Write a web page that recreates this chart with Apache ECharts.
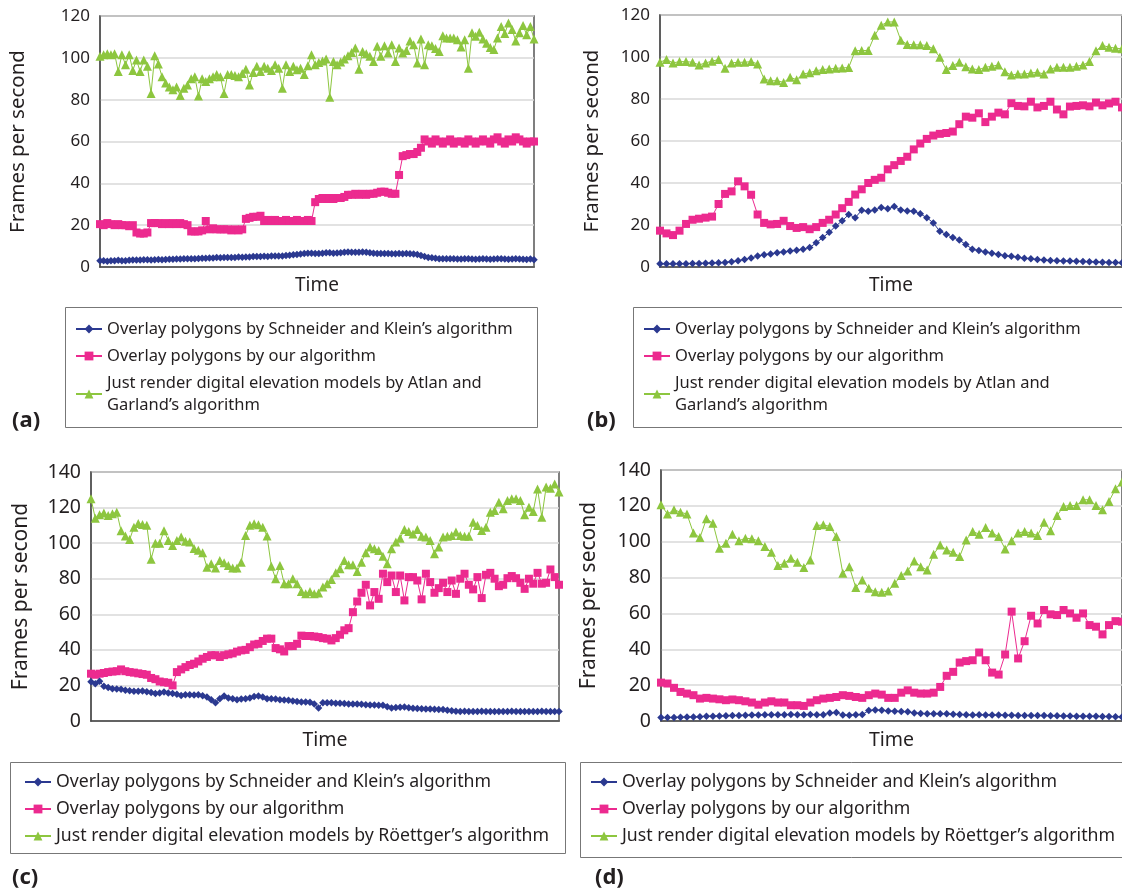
<!DOCTYPE html>
<html>
<head>
<meta charset="utf-8">
<script src="https://cdn.jsdelivr.net/npm/echarts@6/dist/echarts.min.js"></script>
<style>
  html, body { margin: 0; padding: 0; background: #fff; }
  #main { width: 1122px; height: 892px; }
</style>
</head>
<body>
<div id="main"></div>
<script>
// frames per second over time, four test scenes (a)-(d)

var nameBlue = 'Overlay polygons by Schneider and Klein’s algorithm';
var namePink = 'Overlay polygons by our algorithm';
var nameGreenAB = 'Just render digital elevation models by Atlan and Garland’s algorithm';
var nameGreenCD = 'Just render digital elevation models by Röettger’s algorithm';

var yTicksAB = [0, 20, 40, 60, 80, 100, 120];
var yTicksCD = [0, 20, 40, 60, 80, 100, 120, 140];

// (a)
var blueA = [3,3,2.8,3,3,3.2,3,3,3.2,3.3, 3.3,3.4,3.5,3.5,3.4,3.5,3.6,3.5,3.6,3.7,
  3.7,3.8,3.8,4,3.9,4,4,4.1,4.2,4.2, 4.3,4.3,4.5,4.4,4.5,4.5,4.6,4.6,4.8,4.7,
  4.8,4.8,5,5,5,5.1,5,5.2,5.2,5.3, 5.3,5.5,5.6,5.8,6,6.2,6.5,6.6,6.6,6.5,
  6.5,6.6,6.8,6.8,6.6,6.7,6.8,7,7.2,7, 7,7.1,7.2,7,6.8,6.6,6.5,6.4,6.5,6.4,
  6.3,6.3,6.4,6.3,6.4,6.3,6.2,6,5.5,5, 4.6,4.4,4.2,4,4,3.9,4,3.9,3.8,3.8,
  3.9,4,3.8,3.7,3.8,3.9,3.8,3.7,3.8,3.9, 4,3.8,3.7,3.8,3.9,3.8,3.7,3.6,3.8,3.5];
var pinkA = [20.5,20,21,20.5,20,20.5,20,20,19.5,20, 16.5,16,16,16.5,
  21,21,21,20.5,21,20.5,21,20.5,21,20.5,20, 17,17,17,17.5, 22,
  18,18.5,18,18,18,18,17.5,18,17.5,18, 23,23.5,24,24,24.5,
  22,22.5,22,22.5,22,22,22.5,22,22,22.5,22,22,22.5,22, 31,
  32.5,33,32.5,33,32.5,33,33,33.5, 34.5,34.5,35,34.5,35,34.5,35,35,
  35.5,36,36,35.5,35,35, 44, 53,53.5,54,54,55,57, 61,
  60,59,61,60,59,60,61,59,60,60, 59,61,60,59,60,61,60,59,61,62, 60,59,61,60,62,61,60,59,60,60];
var greenA = [100.7,101.5,102,101.5,102,93.5,101.5,96.7,101.5,94,
  99,93.5,99,96,83,101,97,91,88,86, 84.7,86,82,85.5,87,90,91,81.8,90,88.7,
  90,91,92,91,83,92,92,91.5,91,92.5, 94.6,87,93,96,93.5,96,95,94,96.7,95,
  85.5,96.7,93.5,96,94.3,95,92,96.2,101.5,96.7, 97.8,98.5,99.4,81.2,98.3,96.7,98,99.4,101,102.5,
  104.7,94.6,103,102,100.7,98.3,105.5,100.7,105.8,102.3, 106.3,98.3,104.7,102.3,103.5,108,106.3,97.5,109,96.7,
  106.3,105.8,104.5,103,110.6,109.5,109.5,109.5,108.7,105.2, 108.7,95,112,110.3,112.2,109,107,105,104,109.5,
  115,111.6,116.7,113.5,108,112,115.4,111,115,109];

// (b)
var blueB = [1.5,1.5,1.5,1.6,1.6,1.7,1.7,1.8,1.9,2, 2.2,2.5,3,3.6,4.3,5.2,5.8,6.2,6.8,7.2,
  7.6,8,8.5,9.3,11.5,14,16.5,19.5,22,25, 23.5,27,26.5,27.2,28.3,27.7,28.8,27.2,26.7,26.5,
  25.3,23.5,21,17,15.5,14,12.8,10.7,8.5,7.8, 7.2,6.6,6,5.4,5.1,4.6,4.2,3.9,3.6,3.3,
  3.1,3,2.9,2.8,2.7,2.6,2.5,2.4,2.3,2.2, 2.1,2];
var pinkB = [17.3,16,15.2,17.3,20.5,22.5,23,23.5,24,30, 34.8,36,40.8,38.4,34.4,25,21,20.3,20.5,22,
  19.5,18.6,19,18,19,21,22.5,25,28,31, 34.5,37,40,41.5,42.5,46.5,48.5,50.5,52.5,56,
  58.8,61,62.6,63.4,63.8,64.5,68,71.6,71.1,73.2, 69,71.6,73.5,72.7,78,76.7,76.5,78.7,76,76.7,
  78.7,75,72.7,76.4,76.7,77,76.5,78.3,77,77.9, 78.7,76];
var greenB = [97.5,98.8,97.2,97.8,97.8,97.5,96.2,97.2,98,98.8, 94.6,97.2,97.5,97.5,97.8,96.7,
  89.5,88.7,88.7,87.9,90.3,89.2,91.9,92.5,93.5,94, 94.3,94.6,94.8,95,
  103,103.1,103.1,110.3,115.1,116.7,116.7,108,106,105.8, 105.8,105.5,103.9,99.9,94,95.9,97.5,95.3,94.3,94,
  95.1,95.6,96.2,93,91.4,91.9,91.9,92.4,92.7,91.9, 94.3,95.1,95.1,95.1,95.6,96.2,97.8,103,105.5,104.7,
  104.2,103.9];

// (c)
var blueC = [22,21,22.3,19.5,18.8,18.2,18,17.8,17.3,17, 16.7,16.7,16.8,16.5,16,15.4,15.8,16.3,15.8,15.4,
  15,14.4,14.8,14.8,14.6,14.8,14.2,13.5,12,10.3, 12.5,14,13,12.5,12,12.3,12.5,13,13.8,14,
  13.5,12.5,12.5,12.3,12,11.8,11.6,11.2,11,10.7, 10.7,10.5,9.5,7.3,10.3,10.3,10.2,10,10,9.8,
  9.6,9.6,9.6,9.4,9.2,9,9,8.8,8.8,8, 7.3,7.6,7.8,7.9,7.5,7.2,7,6.9,6.8,6.7,
  6.6,6.5,6.4,6,5.8,5.5,5.4,5.5,5.4,5.3, 5.4,5.5,5.4,5.3,5.4,5.4,5.3,5.4,5.5,5.4,
  5.3,5.4,5.4,5.3,5.4,5.5,5.4,5.3,5.4,5.4];
var pinkC = [26.6,26,26.6,27,27.5,27.8,28,29,28,27.5, 27.2,26.8,26.4,26,24.2,23.5,22.2,21.8,21.5,20,
  27.5,29,30.3,31.5,32.2,33.5,35,36,37,37, 36,37,37.5,38,39,39.7,40,41.5,43,43.4,
  45,46.3,46.3,41,40.3,39.1,42.1,42.1,43.4,48, 47.8,47.8,47.5,47.2,46.6,46.3,45.3,46.6,48.5,51,
  52.2,61.2,67.2,72.1,76.6,65,72.5,68.7,82.8,78.1, 81.8,72.5,81.8,67.8,80.9,80.9,79,68.4,82.8,78.1,
  72.1,74.7,77.7,72.5,79,71.5,80,82.8,76.6,74, 80.9,69.1,82.2,83.3,80,75.8,76.6,80.3,81.5,80.3,
  77.7,74.3,80,77.2,83.3,77.2,77.7,85.2,80.9,76.6];
var greenC = [125,114,116,117,115.5,116.5,117.4,107,104,102, 109,111,110.5,110,91,100,100,107,101.5,98.7,
  101.5,103.4,101,100.6,97,96,94.6,86.5,88.4,86, 90.3,89,87.5,86,86,89.3,104.3,110,110.9,110.3,
  109,104,87,80,87.5,77.2,77.2,80,77.2,72.8, 71.5,72.8,71.5,72,75.3,77.2,79.6,83.3,85.6,90.3,
  87.8,87.8,84.1,89.3,94.6,97.8,96.8,95.9,92.7,88.4, 96.8,100.6,102.8,107.7,106.6,105.2,107.7,103.9,103.4,101.5,
  94,97.8,103.4,103.9,104.3,106.2,104.3,103.9,103.9,111.8, 109.9,107.1,109,117.4,118.4,123,119.3,124,124.9,124.9,
  124,115.9,120.2,117.8,130.5,114.6,131.5,130.9,133.3,128.7];

// (d)
var blueD = [1.9,1.9,2,2.1,2.2,2.3,2.4,2.6,2.7,2.8, 2.9,3,3.1,3.2,3.3,3.4,3.5,3.5,3.5,3.5,
  3.6,3.5,3.5,3.6,3.5,3.5,4.5,4.7,3.3,3.2, 3.5,3.6,5.8,6.2,6,5.6,5.4,5.3,5.1,4.5,
  4.2,4.1,4.1,4,4,3.8,3.6,3.5,3.4,3.5, 3.4,3.3,3.3,3.2,3.2,3.1,3.1,3,3,3,
  2.9,2.9,2.8,2.8,2.7,2.7,2.6,2.6,2.5,2.5, 2.4,2.3];
var pinkD = [21.4,20.9,18.5,16.2,15.3,14.4,12.5,12.9,12.5,12.1, 11.6,12,11.6,11,10.3,9.1,10.3,11,10.3,10.3,
  8.8,8.8,8.4,10.3,11.6,12.5,12.9,13.4,14.4,14, 13.4,12.9,14.4,15.3,14.7,12.9,12.9,15.8,17.1,15.8,
  15.3,15.3,15.8,19,25.2,27.4,32.6,33.4,33.9,38.2, 33.9,27,25.9,37.1,61,34.9,44.5,58.7,54.4,61.9,
  59.5,59.1,61.9,60,57.6,60,53.5,52.6,48.3,53.5, 55.7,55.4];
var greenD = [120.6,115.4,117.8,116.5,115.4,104.8,102.3,112.8,110.3,96.4, 99.2,104.2,100.5,102,101.6,100.5,97.3,94.1,86.7,88,
  90.8,88.5,85.6,89.8,109,109.4,108.5,102.9,82.4,86.1, 74.4,78.7,74,72.1,71.8,72.5,76.8,81.1,83.7,89.3,
  86.1,84.2,93,98.2,95.4,94.1,91.7,101,105.7,104.2, 107.9,104.8,102.9,96,100.5,104.8,105.7,104.8,103.4,110.9,
  106.1,114.6,119.7,120.2,120.2,123.4,123.4,120.2,117.8,122.5, 129.5,133.3];

var FONT = '"Noto Sans", "DejaVu Sans", sans-serif';
var TXT = '#231F20';
var C_BLUE = '#2B3990';
var C_PINK = '#EC2A8F';
var C_GREEN = '#8DC63F';

function indexCats(n){
	var arr = [];
	for(var i=0;i<n;i++){ arr.push(i); }
	return arr;
}

function makeSeries(name, data, idx, color, symbol, size){
	return {
		name: name,
		type: 'line',
		xAxisIndex: idx,
		yAxisIndex: idx,
		data: data,
		symbol: symbol,
		symbolSize: size,
		showSymbol: true,
		showAllSymbol: true,
		itemStyle: { color: color },
		lineStyle: { color: color, width: 1 },
		emphasis: { disabled: true },
		z: symbol == 'triangle' ? 3 : (symbol == 'rect' ? 4 : 5)
	};
}

function makeX(idx, n, fs){
	return {
		gridIndex: idx,
		type: 'category',
		data: indexCats(n),
		boundaryGap: false,
		name: 'Time',
		nameLocation: 'middle',
		nameGap: 9,
		nameTextStyle: { fontSize: fs, color: TXT, fontFamily: FONT },
		axisLine: { lineStyle: { color: '#444', width: 1.5 } },
		axisTick: { show: false },
		axisLabel: { show: false },
		splitLine: { show: false }
	};
}

function makeY(idx, ticks, gap, fs, nfs){
	return {
		gridIndex: idx,
		type: 'value',
		min: ticks[0],
		max: ticks[ticks.length-1],
		interval: ticks[1]-ticks[0],
		name: 'Frames per second',
		nameLocation: 'middle',
		nameGap: gap,
		nameTextStyle: { fontSize: nfs, color: TXT, fontFamily: FONT },
		axisLine: { show: true, lineStyle: { color: '#555', width: 1.5 } },
		axisTick: { show: false },
		axisLabel: { fontSize: fs, color: TXT, fontFamily: FONT, margin: 10 },
		splitLine: { lineStyle: { color: '#D9D9D9', width: 1.5 } }
	};
}

function makeLegend(left, top, greenName, fs){
	return {
		orient: 'vertical',
		left: left,
		top: top,
		itemWidth: 26,
		itemHeight: 11,
		itemGap: 5,
		selectedMode: false,
		data: [nameBlue, namePink, greenName],
		formatter: function(name){
			if(name == nameGreenAB){
				return 'Just render digital elevation models by Atlan and\nGarland’s algorithm';
			}
			return name;
		},
		textStyle: { fontSize: fs, lineHeight: 22, color: TXT, fontFamily: FONT }
	};
}

var chart = echarts.init(document.getElementById('main'));

var grids = [
	{ left: 100, top: 16, width: 434, height: 251 },
	{ left: 660, top: 15, width: 462, height: 252 },
	{ left: 91, top: 472, width: 468, height: 249 },
	{ left: 661, top: 470, width: 461, height: 251 }
];
for(var g=0; g<grids.length; g++){
	grids[g].show = true;
	grids[g].borderColor = '#555';
	grids[g].borderWidth = 1.5;
	grids[g].containLabel = false;
}

var option = {
	animation: false,
	backgroundColor: '#fff',
	grid: grids,
	xAxis: [
		makeX(0, blueA.length, 19),
		makeX(1, blueB.length, 19),
		makeX(2, blueC.length, 19.5),
		makeX(3, blueD.length, 19.5)
	],
	yAxis: [
		makeY(0, yTicksAB, 71, 17, 20.5),
		makeY(1, yTicksAB, 57, 17, 20.5),
		makeY(2, yTicksCD, 59, 19.5, 21),
		makeY(3, yTicksCD, 61, 19.5, 21)
	],
	legend: [
		makeLegend(70, 313, nameGreenAB, 16.5),
		makeLegend(638, 313, nameGreenAB, 16.5),
		makeLegend(19, 766, nameGreenCD, 17.7),
		makeLegend(585, 766, nameGreenCD, 17.7)
	],
	graphic: [
		{ type: 'rect', shape: { x: 65.5, y: 307.5, width: 472, height: 120 }, style: { fill: 'none', stroke: '#777', lineWidth: 1 }, z: -1 },
		{ type: 'rect', shape: { x: 633.5, y: 307.5, width: 500, height: 120 }, style: { fill: 'none', stroke: '#777', lineWidth: 1 }, z: -1 },
		{ type: 'rect', shape: { x: 10.5, y: 762.5, width: 555, height: 91 }, style: { fill: 'none', stroke: '#777', lineWidth: 1 }, z: -1 },
		{ type: 'rect', shape: { x: 580.5, y: 762.5, width: 550, height: 95 }, style: { fill: 'none', stroke: '#777', lineWidth: 1 }, z: -1 },
		{ type: 'text', left: 12, top: 410, style: { text: '(a)', font: 'bold 22px ' + FONT, fill: TXT } },
		{ type: 'text', left: 587, top: 410, style: { text: '(b)', font: 'bold 22px ' + FONT, fill: TXT } },
		{ type: 'text', left: 12, top: 867, style: { text: '(c)', font: 'bold 22px ' + FONT, fill: TXT } },
		{ type: 'text', left: 595, top: 867, style: { text: '(d)', font: 'bold 22px ' + FONT, fill: TXT } }
	],
	series: [
		makeSeries(nameGreenAB, greenA, 0, C_GREEN, 'triangle', 9),
		makeSeries(namePink, pinkA, 0, C_PINK, 'rect', 8),
		makeSeries(nameBlue, blueA, 0, C_BLUE, 'diamond', 7.5),
		makeSeries(nameGreenAB, greenB, 1, C_GREEN, 'triangle', 9),
		makeSeries(namePink, pinkB, 1, C_PINK, 'rect', 8),
		makeSeries(nameBlue, blueB, 1, C_BLUE, 'diamond', 7.5),
		makeSeries(nameGreenCD, greenC, 2, C_GREEN, 'triangle', 9),
		makeSeries(namePink, pinkC, 2, C_PINK, 'rect', 8),
		makeSeries(nameBlue, blueC, 2, C_BLUE, 'diamond', 7.5),
		makeSeries(nameGreenCD, greenD, 3, C_GREEN, 'triangle', 9),
		makeSeries(namePink, pinkD, 3, C_PINK, 'rect', 8),
		makeSeries(nameBlue, blueD, 3, C_BLUE, 'diamond', 7.5)
	]
};

chart.setOption(option);
</script>
</body>
</html>
